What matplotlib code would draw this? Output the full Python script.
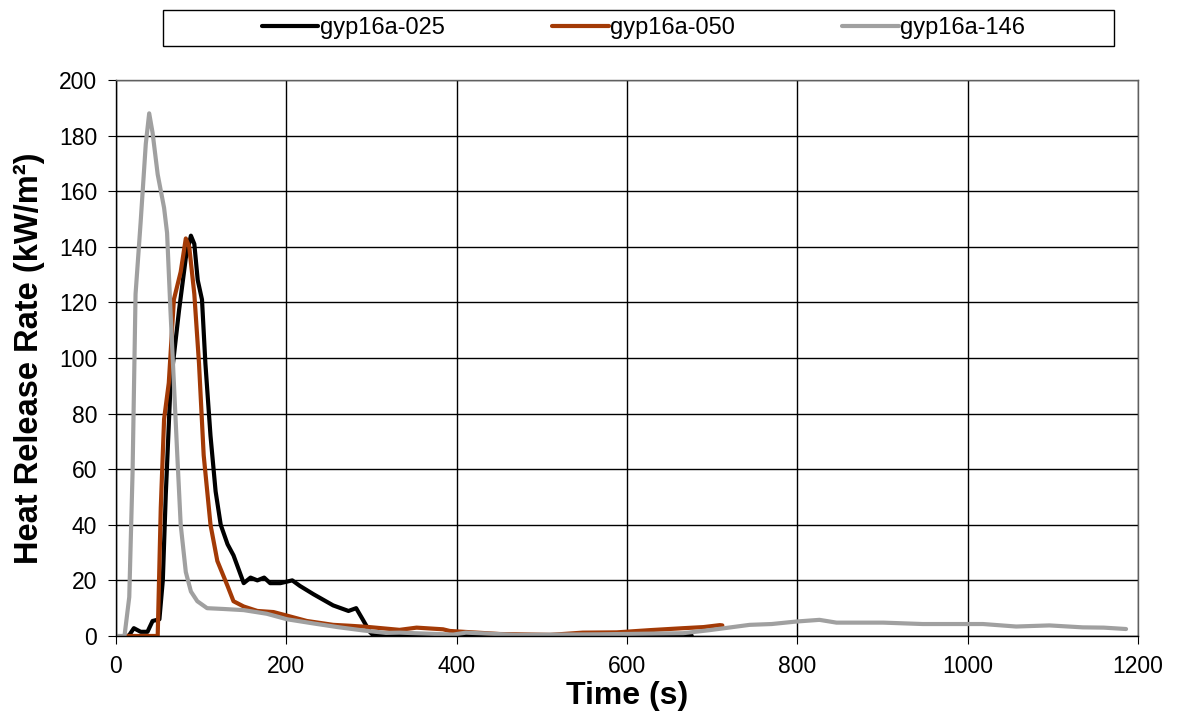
import matplotlib
matplotlib.use('Agg')
import matplotlib.pyplot as plt
from matplotlib.patches import Rectangle

plt.rcParams['font.family'] = ['Liberation Sans', 'DejaVu Sans']

# gyp16a-025
t_025 = [14, 16, 21, 29, 37, 43, 51, 55, 58.5, 64, 74, 82, 88, 92, 96, 101, 105, 111,
         117, 123, 131, 138, 144, 150, 158, 166, 174, 181, 193, 207, 216, 232, 255,
         273, 282, 290, 298, 302, 330, 400, 500, 600, 676]
hrr_025 = [0, 0.5, 2.8, 1.5, 1.5, 5.4, 6, 20, 51, 90, 117, 136, 144, 141, 128, 121, 98,
           72, 52, 40, 33, 29, 24, 19, 21, 20, 21, 19, 19, 20, 18, 15, 11, 9, 10, 5.8,
           1.5, 0.3, 0.1, 0.2, 0.1, 0.2, 0.1]

# gyp16a-050
t_050 = [13.6, 49, 52.6, 56.5, 62, 68, 76, 82, 86, 92, 97.5, 103, 111, 119, 131, 138,
         150, 166, 185, 201, 224, 255, 273, 294, 333, 353, 384, 392, 451, 510, 548, 588,
         627, 666, 690, 709, 712]
hrr_050 = [0, 0, 46, 78, 91, 121, 131, 143, 140, 123, 98, 65, 40, 27, 18, 12.5, 10.6,
           9, 8.6, 7.3, 5.4, 4, 3.7, 3.3, 2.2, 3, 2.4, 1.8, 0.7, 0.4, 1.2, 1.3, 2.1, 2.8,
           3.2, 3.9, 3.8]

# gyp16a-146
t_146 = [0, 10, 15.6, 19.5, 23, 29, 35, 39, 43, 49, 56.5, 60, 64, 68, 72, 76, 82, 88,
         95.5, 107, 127, 150, 177, 201, 232, 260, 290, 317, 333, 396, 411, 470, 568, 666,
         697, 744, 770, 799, 826, 846, 901, 947, 1018, 1057, 1096, 1135, 1160, 1186]
hrr_146 = [0, 0, 14, 59, 123, 149, 177, 188, 181, 166, 154, 145, 117, 91, 65, 40, 23,
           16, 12.5, 10, 9.7, 9.3, 8, 6, 4.5, 3.2, 2, 1.1, 1.2, 0.5, 1.2, 0.4, 0.6, 1,
           2.1, 4, 4.3, 5.2, 5.8, 4.8, 4.8, 4.3, 4.3, 3.4, 3.8, 3.1, 3.0, 2.5]

fig = plt.figure(figsize=(11.87, 7.2), dpi=100)
ax = fig.add_axes([0.0977, 0.1167, 0.861, 0.7722])

style = dict(lw=3, solid_joinstyle='round', solid_capstyle='round')
ax.plot(t_025, hrr_025, color='black', label='gyp16a-025', **style)
ax.plot(t_050, hrr_050, color='#A33A06', label='gyp16a-050', **style)
ax.plot(t_146, hrr_146, color='#A0A0A0', label='gyp16a-146', **style)

ax.set_xlim(0, 1200)
ax.set_ylim(0, 200)
ax.set_xticks(range(0, 1201, 200))
ax.set_yticks(range(0, 201, 20))
ax.grid(True, color='black', lw=1)
ax.set_axisbelow(True)
for s in ax.spines.values():
    s.set_color('#606060')
    s.set_linewidth(1)
ax.spines['left'].set_color('black')
ax.spines['bottom'].set_color('black')
ax.tick_params(direction='out', length=5.5, color='black', labelsize=16.5, pad=8)

ax.set_xlabel('Time (s)', fontsize=23, fontweight='bold', labelpad=2)
ax.set_ylabel('Heat Release Rate (kW/m²)', fontsize=23.5, fontweight='bold', labelpad=10)

# legend box across the top
fig.patches.append(Rectangle((0.1373, 0.936), 0.801, 0.05, transform=fig.transFigure,
                             fill=False, edgecolor='black', lw=1))
fig.legend(loc='center', ncol=3, bbox_to_anchor=(0.542, 0.961), frameon=False,
           fontsize=17, handlelength=2.4, handletextpad=0.05, columnspacing=4.55,
           borderaxespad=0)

fig.savefig('out.png', dpi=100)
